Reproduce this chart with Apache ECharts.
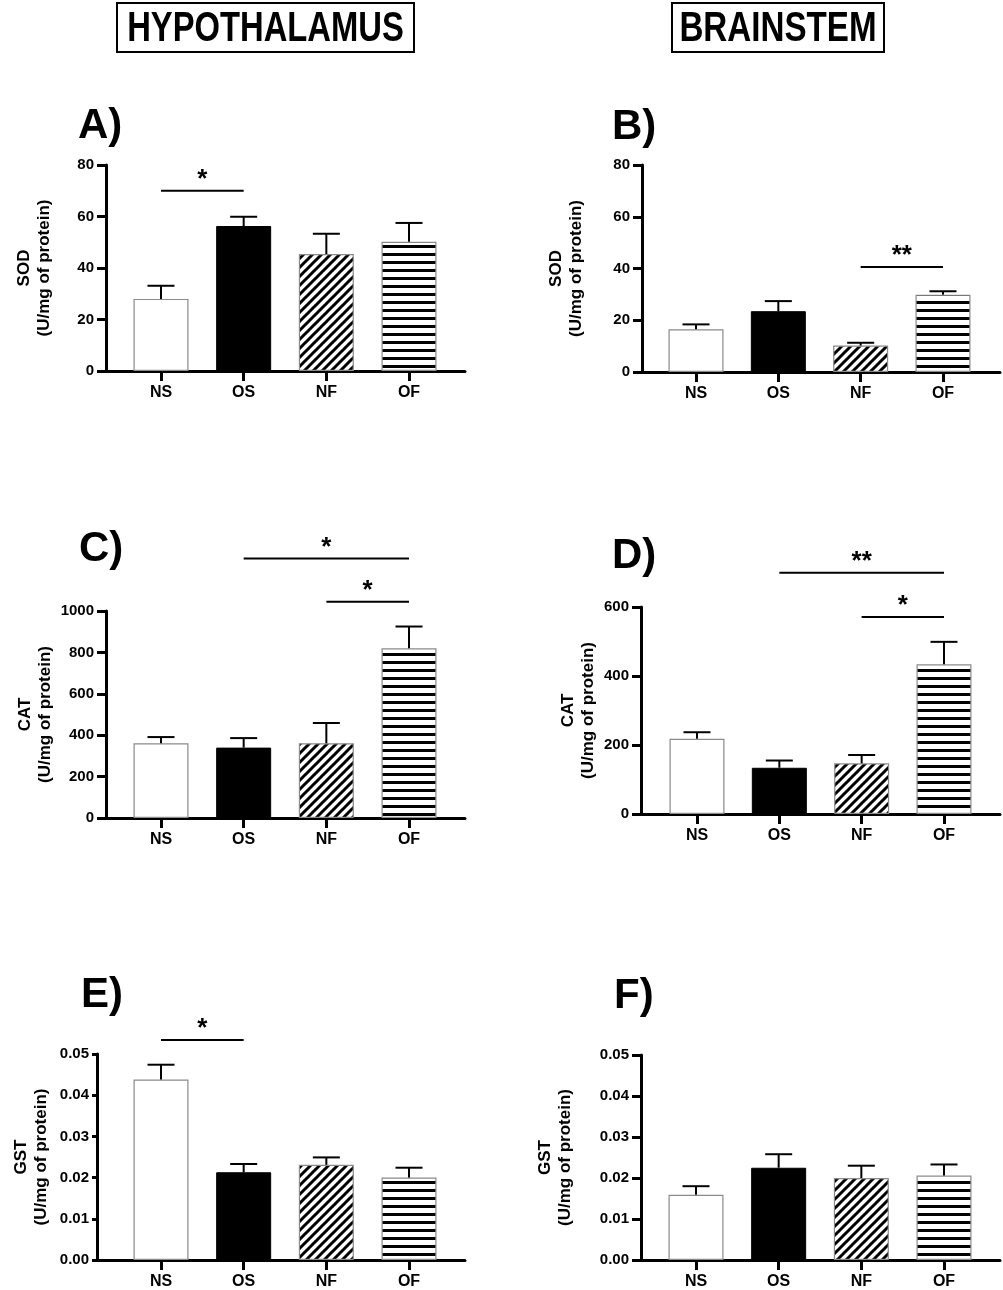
<!DOCTYPE html>
<html>
<head>
<meta charset="utf-8">
<script src="https://cdn.jsdelivr.net/npm/echarts@6/dist/echarts.min.js"></script>
<style>
html, body { margin: 0; padding: 0; background: #fff; }
#main { width: 1003px; height: 1290px; }
</style>
</head>
<body>
<div id="main"></div>
<script>
// groups
var cats = ['NS', 'OS', 'NF', 'OF'];

// mean and SEM
var sodHypMean = [28.0, 56.3, 45.4, 50.2];
var sodHypSem  = [5.1, 3.6, 7.9, 7.3];
var sodBrMean  = [16.5, 23.5, 10.2, 29.9];
var sodBrSem   = [1.9, 3.9, 1.1, 1.3];
var catHypMean = [361, 340, 361, 820];
var catHypSem  = [30, 46, 98, 105];
var catBrMean  = [218, 134, 147, 434];
var catBrSem   = [19, 21, 24, 65];
var gstHypMean = [0.0438, 0.0213, 0.0231, 0.0200];
var gstHypSem  = [0.0036, 0.0020, 0.0018, 0.0024];
var gstBrMean  = [0.0159, 0.0225, 0.0200, 0.0206];
var gstBrSem   = [0.0021, 0.0033, 0.0030, 0.0027];

// significance bars: [from, to, level, number of stars]
var sigA = [[0, 1, 70, 1]];
var sigB = [[2, 3, 40.6, 2]];
var sigC = [[1, 3, 1254, 1], [2, 3, 1045, 1]];
var sigD = [[1, 3, 699, 2], [2, 3, 571, 1]];
var sigE = [[0, 1, 0.0534, 1]];
var sigF = [];

// y axis ticks: [min, max, interval]
var ticksSod = [0, 80, 20];
var ticksCatHyp = [0, 1000, 200];
var ticksCatBr = [0, 600, 200];
var ticksGst = [0, 0.05, 0.01];

function hPattern() {
    var c = document.createElement('canvas');
    c.width = 8; c.height = 8;
    var g = c.getContext('2d');
    g.fillStyle = '#fff'; g.fillRect(0, 0, 8, 8);
    g.fillStyle = '#000'; g.fillRect(0, 5, 8, 3);
    return c;
}
function dPattern() {
    var s = 9;
    var c = document.createElement('canvas');
    c.width = s; c.height = s;
    var g = c.getContext('2d');
    g.fillStyle = '#fff'; g.fillRect(0, 0, s, s);
    g.strokeStyle = '#000'; g.lineWidth = 3;
    for (var k = 0; k < 3; k++) {
        g.beginPath();
        g.moveTo(-1, k * s + 1);
        g.lineTo(s + 1, k * s - s - 1);
        g.stroke();
    }
    return c;
}

var barStyles = [
    { color: '#fff', borderColor: '#8a8a8a', borderWidth: 1.2 },
    { color: '#000', borderColor: '#000', borderWidth: 1 },
    { color: { image: dPattern(), repeat: 'repeat' }, borderColor: '#8a8a8a', borderWidth: 1.2 },
    { color: { image: hPattern(), repeat: 'repeat' }, borderColor: '#8a8a8a', borderWidth: 1.2 }
];

var panels = [
    { letter: 'A)', name: 'SOD', mean: sodHypMean, sem: sodHypSem, sig: sigA, ticks: ticksSod, dec: 0 },
    { letter: 'B)', name: 'SOD', mean: sodBrMean, sem: sodBrSem, sig: sigB, ticks: ticksSod, dec: 0 },
    { letter: 'C)', name: 'CAT', mean: catHypMean, sem: catHypSem, sig: sigC, ticks: ticksCatHyp, dec: 0 },
    { letter: 'D)', name: 'CAT', mean: catBrMean, sem: catBrSem, sig: sigD, ticks: ticksCatBr, dec: 0 },
    { letter: 'E)', name: 'GST', mean: gstHypMean, sem: gstHypSem, sig: sigE, ticks: ticksGst, dec: 2 },
    { letter: 'F)', name: 'GST', mean: gstBrMean, sem: gstBrSem, sig: sigF, ticks: ticksGst, dec: 2 }
];

// layout in pixels: grid box, first category centre, category step, name gap, y tick length, letter position
var layout = [
    { left: 106, top: 165, width: 359, height: 206, cat0: 161, step: 82.67, gap: 52, tick: 9, lx: 78, ly: 105 },
    { left: 642, top: 165, width: 358, height: 207, cat0: 696, step: 82.33, gap: 56, tick: 9, lx: 612, ly: 106 },
    { left: 106, top: 611, width: 359, height: 207, cat0: 161, step: 82.67, gap: 51, tick: 9, lx: 79, ly: 528 },
    { left: 641, top: 607, width: 359, height: 207, cat0: 697, step: 82.33, gap: 43, tick: 9, lx: 612, ly: 535 },
    { left: 97, top: 1054, width: 368, height: 208, cat0: 161, step: 82.67, gap: 46, tick: 5, lx: 81, ly: 974 },
    { left: 641, top: 1055, width: 359, height: 207, cat0: 696, step: 82.67, gap: 66, tick: 9, lx: 614, ly: 975 }
];

var FONT = '"Liberation Sans", Arial, Helvetica, sans-serif';

var grids = [], xAxes = [], yAxes = [], series = [], graphics = [];

panels.forEach(function (p, i) {
    var L = layout[i];
    grids.push({ left: L.left, top: L.top, width: L.width, height: L.height, containLabel: false });
    xAxes.push({
        gridIndex: i,
        type: 'value',
        min: (L.left - L.cat0) / L.step,
        max: (L.left + L.width - L.cat0) / L.step,
        splitLine: { show: false },
        axisLine: { onZero: false, lineStyle: { color: '#000', width: 3 } },
        axisTick: { show: true, customValues: [0, 1, 2, 3], length: 10, lineStyle: { color: '#000', width: 3 } },
        axisLabel: {
            customValues: [0, 1, 2, 3],
            margin: 14,
            color: '#000',
            fontWeight: 'bold',
            fontSize: 16,
            fontFamily: FONT,
            formatter: function (v) { return cats[Math.round(v)]; }
        }
    });
    yAxes.push({
        gridIndex: i,
        type: 'value',
        min: p.ticks[0],
        max: p.ticks[1],
        interval: p.ticks[2],
        name: p.name + '\n(U/mg of protein)',
        nameLocation: 'middle',
        nameRotate: 90,
        nameGap: L.gap,
        nameMoveOverlap: false,
        nameTextStyle: { color: '#000', fontWeight: 'bold', fontSize: 17, fontFamily: FONT, lineHeight: 20 },
        splitLine: { show: false },
        axisLine: { show: true, onZero: false, lineStyle: { color: '#000', width: 3 } },
        axisTick: { show: true, length: L.tick, lineStyle: { color: '#000', width: 3 } },
        axisLabel: {
            margin: L.tick + 3,
            color: '#000',
            fontWeight: 'bold',
            fontSize: 15,
            fontFamily: FONT,
            formatter: function (v) { return v.toFixed(p.dec); }
        }
    });
    series.push({
        type: 'bar',
        xAxisIndex: i,
        yAxisIndex: i,
        barWidth: 55,
        data: p.mean.map(function (m, k) { return { value: [k, m], itemStyle: barStyles[k] }; }),
        z: 2
    });
    series.push({
        type: 'custom',
        xAxisIndex: i,
        yAxisIndex: i,
        clip: false,
        z: 3,
        encode: { x: 0, y: [1, 2] },
        data: p.mean.map(function (m, k) { return [k, m, m + p.sem[k]]; }),
        renderItem: function (params, api) {
            var x = api.value(0);
            var p0 = api.coord([x, api.value(1)]);
            var p1 = api.coord([x, api.value(2)]);
            return {
                type: 'group',
                children: [
                    { type: 'line', shape: { x1: p0[0], y1: p0[1], x2: p1[0], y2: p1[1] }, style: { stroke: '#000', lineWidth: 2 } },
                    { type: 'line', shape: { x1: p1[0] - 13.5, y1: p1[1], x2: p1[0] + 13.5, y2: p1[1] }, style: { stroke: '#000', lineWidth: 2 } }
                ]
            };
        }
    });
    if (p.sig.length) {
        series.push({
            type: 'custom',
            xAxisIndex: i,
            yAxisIndex: i,
            clip: false,
            z: 3,
            encode: { x: [0, 1], y: 2 },
            data: p.sig,
            renderItem: function (params, api) {
                var a = api.coord([api.value(0), api.value(2)]);
                var b = api.coord([api.value(1), api.value(2)]);
                var n = api.value(3);
                return {
                    type: 'group',
                    children: [
                        { type: 'line', shape: { x1: a[0], y1: a[1], x2: b[0], y2: b[1] }, style: { stroke: '#000', lineWidth: 2 } },
                        {
                            type: 'text',
                            style: {
                                x: (a[0] + b[0]) / 2, y: a[1] + 2,
                                text: n === 2 ? '**' : '*',
                                fill: '#000',
                                font: 'bold 26px ' + FONT,
                                align: 'center',
                                verticalAlign: 'bottom'
                            }
                        }
                    ]
                };
            }
        });
    }
    graphics.push({
        type: 'text',
        left: L.lx,
        top: L.ly,
        style: { text: p.letter, fill: '#000', font: 'bold 42px ' + FONT }
    });
});

// column headers, condensed by horizontal scaling
var HEAD_FONT = 'bold 42px ' + FONT;
graphics.push(
    { type: 'rect', shape: { x: 117, y: 3, width: 297, height: 49 }, style: { fill: '#fff', stroke: '#000', lineWidth: 2 } },
    { type: 'text', x: 265.5, y: 29, scaleX: 0.78, style: { text: 'HYPOTHALAMUS', fill: '#000', font: HEAD_FONT, align: 'center', verticalAlign: 'middle' } },
    { type: 'rect', shape: { x: 672, y: 3, width: 212, height: 49 }, style: { fill: '#fff', stroke: '#000', lineWidth: 2 } },
    { type: 'text', x: 778, y: 29, scaleX: 0.79, style: { text: 'BRAINSTEM', fill: '#000', font: HEAD_FONT, align: 'center', verticalAlign: 'middle' } }
);

var chart = echarts.init(document.getElementById('main'));
chart.setOption({
    backgroundColor: '#fff',
    animation: false,
    grid: grids,
    xAxis: xAxes,
    yAxis: yAxes,
    series: series,
    graphic: graphics
});
</script>
</body>
</html>
